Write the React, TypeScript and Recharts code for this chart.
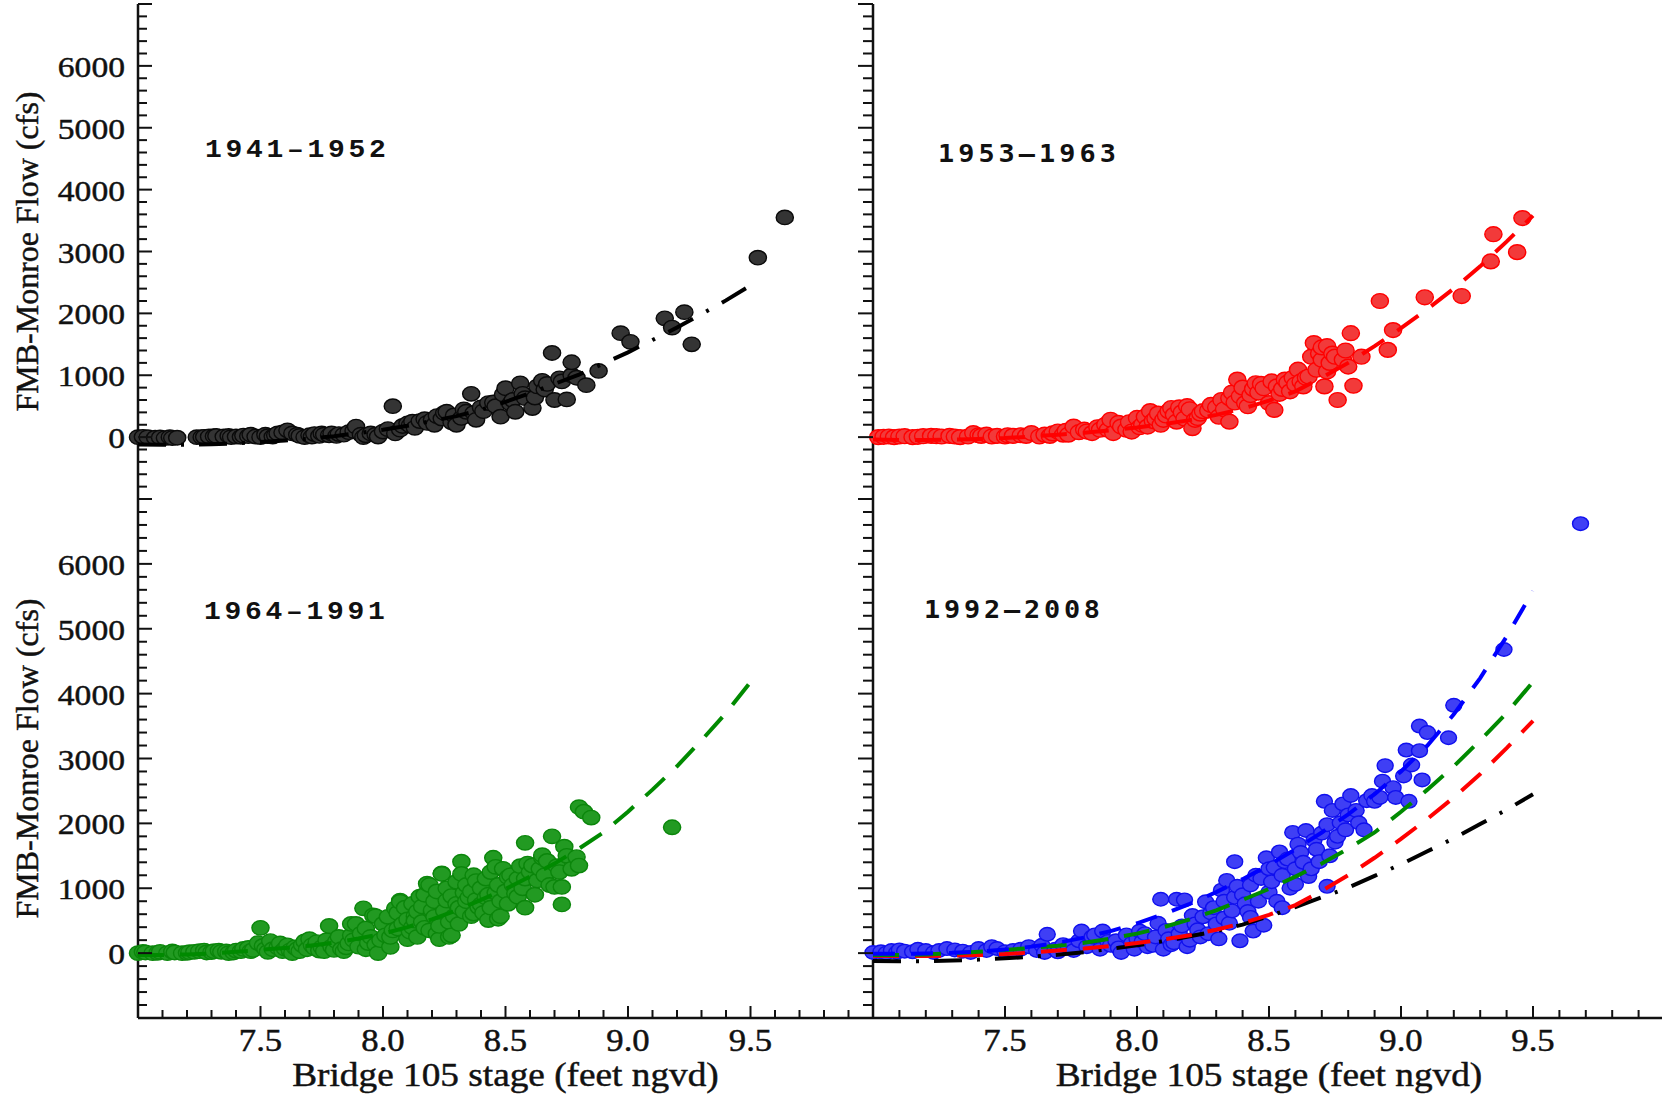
import React from "react";
import { ScatterChart, Scatter, XAxis, YAxis } from "recharts";

const INK = "#111";
const SERIF = "'Liberation Serif', 'Times New Roman', serif";

// tick positions
const xTicks = [7.0, 7.1, 7.2, 7.3, 7.4, 7.5, 7.6, 7.7, 7.8, 7.9, 8.0, 8.1, 8.2, 8.3, 8.4, 8.5, 8.6, 8.7, 8.8, 8.9, 9.0, 9.1, 9.2, 9.3, 9.4, 9.5, 9.6, 9.7, 9.8, 9.9, 10.0];
const yTicks = [-1000, -800, -600, -400, -200, 0, 200, 400, 600, 800, 1000, 1200, 1400, 1600, 1800, 2000, 2200, 2400, 2600, 2800, 3000, 3200, 3400, 3600, 3800, 4000, 4200, 4400, 4600, 4800, 5000, 5200, 5400, 5600, 5800, 6000, 6200, 6400, 6600, 6800, 7000];

// fitted rating curves at 0.1 ft steps
const fitStages = [7.0, 7.1, 7.2, 7.3, 7.4, 7.5, 7.6, 7.7, 7.8, 7.9, 8.0, 8.1, 8.2, 8.3, 8.4, 8.5, 8.6, 8.7, 8.8, 8.9, 9.0, 9.1, 9.2, 9.3, 9.4, 9.5];
const fit1941 = [-120, -125, -125, -115, -100, -80, -55, -25, 15, 65, 120, 185, 260, 340, 440, 570, 710, 860, 1010, 1190, 1370, 1570, 1770, 1990, 2210, 2450];
const fit1953 = [-40, -45, -45, -40, -30, -15, 10, 40, 70, 110, 155, 210, 275, 360, 460, 590, 740, 960, 1200, 1470, 1760, 2070, 2400, 2760, 3160, 3580];
const fit1964 = [-30, -30, -20, -5, 20, 50, 80, 115, 160, 225, 300, 400, 520, 660, 820, 990, 1180, 1380, 1610, 1860, 2180, 2520, 2880, 3280, 3700, 4180];
const fit1992 = [-10, -10, -5, 5, 25, 55, 100, 160, 240, 340, 460, 600, 760, 940, 1140, 1360, 1600, 1860, 2140, 2450, 2800, 3200, 3680, 4240, 4880, 5580];

// observed stage / flow pairs
const obs1941: [number, number][] = [
  [7.00, 0], [7.02, 5], [7.04, 0], [7.07, -10], [7.09, -5], [7.11, -15], [7.13, 0], [7.14, -15], [7.16, -10], [7.24, 0],
  [7.26, 0], [7.27, 5], [7.29, 10], [7.31, 15], [7.32, 20], [7.35, 10], [7.37, 20], [7.38, 0], [7.40, 10], [7.42, 5],
  [7.43, 25], [7.45, 15], [7.46, 40], [7.48, 10], [7.50, 0], [7.52, 40], [7.53, 15], [7.55, 10], [7.56, 30], [7.57, 60],
  [7.59, 75], [7.61, 110], [7.63, 60], [7.65, 40], [7.66, 20], [7.68, 0], [7.70, 30], [7.71, 10], [7.72, 50], [7.74, 20],
  [7.75, 60], [7.76, 40], [7.78, 30], [7.79, 60], [7.81, 20], [7.82, 50], [7.84, 40], [7.86, 80], [7.88, 100], [7.89, 170],
  [7.91, 40], [7.92, 0], [7.93, 30], [7.95, 60], [7.97, 40], [7.98, 10], [8.00, 90], [8.02, 130], [8.04, 500], [8.05, 60],
  [8.07, 120], [8.08, 180], [8.10, 220], [8.11, 190], [8.12, 250], [8.13, 150], [8.15, 260], [8.17, 290], [8.18, 230], [8.20, 280],
  [8.21, 200], [8.22, 340], [8.24, 300], [8.25, 390], [8.26, 410], [8.28, 240], [8.29, 350], [8.30, 200], [8.32, 310], [8.33, 450],
  [8.34, 410], [8.36, 700], [8.37, 390], [8.38, 280], [8.40, 480], [8.41, 420], [8.43, 550], [8.45, 560], [8.46, 500], [8.48, 330],
  [8.49, 690], [8.50, 790], [8.52, 540], [8.53, 600], [8.54, 410], [8.56, 870], [8.57, 700], [8.58, 630], [8.61, 470], [8.62, 640],
  [8.63, 820], [8.65, 910], [8.66, 770], [8.67, 860], [8.69, 1360], [8.70, 600], [8.72, 950], [8.73, 900], [8.75, 610], [8.77, 1000],
  [8.77, 1210], [8.79, 960], [8.83, 840], [8.88, 1070], [8.97, 1680], [9.01, 1540], [9.15, 1920], [9.18, 1770], [9.23, 2020], [9.26, 1500],
  [9.53, 2900], [9.64, 3550],
];

const obs1953: [number, number][] = [
  [7.02, 0], [7.04, 5], [7.06, 10], [7.08, 0], [7.10, 10], [7.12, 15], [7.15, 0], [7.17, 5], [7.19, 15], [7.22, 20],
  [7.24, 15], [7.26, 10], [7.29, 20], [7.31, 10], [7.33, 0], [7.36, 10], [7.38, 65], [7.40, 30], [7.41, 20], [7.43, 40],
  [7.45, 10], [7.47, 20], [7.50, 10], [7.51, 30], [7.53, 20], [7.56, 30], [7.58, 20], [7.60, 65], [7.63, 10], [7.65, 40],
  [7.67, 20], [7.68, 60], [7.70, 90], [7.72, 40], [7.73, 100], [7.74, 40], [7.76, 170], [7.78, 80], [7.80, 120], [7.81, 90],
  [7.83, 65], [7.85, 160], [7.86, 120], [7.88, 200], [7.89, 120], [7.90, 280], [7.91, 65], [7.93, 230], [7.94, 170], [7.96, 120],
  [7.97, 240], [7.98, 90], [8.00, 310], [8.01, 160], [8.02, 200], [8.03, 330], [8.04, 170], [8.05, 420], [8.06, 260], [8.07, 300],
  [8.08, 380], [8.09, 200], [8.10, 280], [8.11, 350], [8.12, 420], [8.13, 470], [8.14, 360], [8.15, 250], [8.16, 480], [8.17, 400],
  [8.18, 300], [8.19, 500], [8.20, 450], [8.21, 145], [8.22, 280], [8.23, 310], [8.24, 380], [8.25, 420], [8.27, 430], [8.28, 520],
  [8.30, 480], [8.31, 330], [8.32, 600], [8.33, 450], [8.35, 250], [8.35, 630], [8.36, 720], [8.37, 560], [8.38, 930], [8.39, 660],
  [8.40, 800], [8.41, 550], [8.42, 500], [8.43, 680], [8.44, 780], [8.45, 870], [8.46, 720], [8.47, 860], [8.48, 790], [8.50, 550],
  [8.51, 900], [8.52, 440], [8.53, 820], [8.54, 700], [8.55, 780], [8.56, 930], [8.57, 880], [8.58, 740], [8.59, 960], [8.60, 850],
  [8.61, 1090], [8.62, 900], [8.63, 820], [8.64, 960], [8.65, 980], [8.66, 1300], [8.67, 1520], [8.68, 1090], [8.69, 1350], [8.70, 1250],
  [8.70, 1450], [8.71, 820], [8.72, 1470], [8.72, 1060], [8.73, 1200], [8.74, 1350], [8.75, 1300], [8.76, 600], [8.78, 1250], [8.79, 1400],
  [8.80, 1140], [8.81, 1680], [8.82, 830], [8.85, 1300], [8.92, 2200], [8.95, 1410], [8.97, 1730], [9.09, 2260], [9.23, 2280], [9.34, 2840],
  [9.35, 3280], [9.44, 2990], [9.46, 3540],
];

const obs1964: [number, number][] = [
  [7.00, 0], [7.02, 20], [7.03, 10], [7.06, 0], [7.08, 5], [7.09, 20], [7.12, 0], [7.14, 25], [7.15, 10], [7.18, 0],
  [7.20, 5], [7.21, 15], [7.23, 20], [7.25, 30], [7.27, 40], [7.28, 10], [7.30, 15], [7.31, 30], [7.33, 40], [7.34, 20],
  [7.36, 25], [7.37, 0], [7.39, 10], [7.40, 40], [7.42, 30], [7.43, 65], [7.45, 80], [7.46, 30], [7.47, 50], [7.49, 155],
  [7.50, 390], [7.51, 110], [7.52, 60], [7.53, 20], [7.54, 185], [7.55, 60], [7.57, 90], [7.58, 150], [7.59, 30], [7.60, 70],
  [7.61, 120], [7.62, 40], [7.63, 0], [7.64, 90], [7.65, 60], [7.66, 30], [7.67, 125], [7.68, 180], [7.69, 60], [7.70, 215],
  [7.71, 120], [7.72, 80], [7.73, 170], [7.74, 40], [7.75, 90], [7.76, 30], [7.77, 200], [7.78, 420], [7.79, 100], [7.80, 50],
  [7.81, 185], [7.82, 250], [7.83, 60], [7.84, 30], [7.85, 90], [7.86, 150], [7.87, 275], [7.87, 450], [7.88, 200], [7.89, 450],
  [7.90, 100], [7.91, 300], [7.92, 690], [7.93, 60], [7.93, 380], [7.94, 155], [7.95, 250], [7.96, 580], [7.97, 570], [7.97, 130],
  [7.98, 0], [7.99, 200], [8.00, 450], [8.01, 275], [8.02, 560], [8.03, 95], [8.03, 250], [8.04, 350], [8.05, 690], [8.06, 380],
  [8.06, 620], [8.07, 810], [8.07, 790], [8.08, 450], [8.09, 700], [8.10, 215], [8.10, 520], [8.11, 330], [8.12, 400], [8.12, 760],
  [8.13, 570], [8.13, 500], [8.14, 640], [8.14, 250], [8.15, 870], [8.16, 720], [8.16, 480], [8.17, 390], [8.17, 900], [8.18, 1070],
  [8.19, 1050], [8.19, 350], [8.20, 630], [8.20, 660], [8.21, 800], [8.21, 560], [8.22, 300], [8.22, 950], [8.23, 215], [8.23, 420],
  [8.24, 1230], [8.24, 1220], [8.25, 650], [8.26, 810], [8.26, 1000], [8.27, 250], [8.27, 480], [8.28, 275], [8.28, 880], [8.29, 570],
  [8.30, 760], [8.30, 1100], [8.31, 700], [8.31, 450], [8.32, 1410], [8.32, 1220], [8.33, 930], [8.33, 640], [8.34, 1050], [8.34, 800],
  [8.35, 860], [8.36, 570], [8.36, 950], [8.37, 610], [8.37, 1200], [8.38, 1110], [8.38, 820], [8.39, 710], [8.40, 750], [8.40, 1000],
  [8.41, 620], [8.42, 860], [8.42, 1150], [8.43, 510], [8.43, 900], [8.44, 1250], [8.44, 700], [8.45, 1470], [8.46, 930], [8.46, 1330],
  [8.47, 530], [8.47, 1050], [8.48, 570], [8.48, 800], [8.49, 1300], [8.50, 950], [8.51, 1170], [8.51, 760], [8.52, 1200], [8.53, 1050],
  [8.54, 920], [8.55, 870], [8.55, 1150], [8.56, 1340], [8.57, 1000], [8.58, 1700], [8.58, 700], [8.58, 1150], [8.59, 1380], [8.60, 1250],
  [8.61, 1350], [8.62, 900], [8.63, 1120], [8.64, 1300], [8.65, 1470], [8.65, 1510], [8.66, 1200], [8.67, 1420], [8.68, 1050], [8.69, 1800],
  [8.70, 1020], [8.71, 1340], [8.72, 1250], [8.73, 750], [8.73, 1020], [8.74, 1640], [8.75, 1500], [8.77, 1300], [8.79, 1480], [8.80, 2250],
  [8.80, 1350], [8.82, 2180], [8.85, 2090], [9.18, 1940],
];

const obs1992: [number, number][] = [
  [7.00, 10], [7.03, 20], [7.05, 0], [7.07, 40], [7.09, 10], [7.10, 50], [7.12, 30], [7.15, 20], [7.17, 60], [7.20, 40],
  [7.23, 10], [7.25, 40], [7.28, 70], [7.31, 50], [7.34, 30], [7.37, 10], [7.40, 70], [7.43, 40], [7.45, 100], [7.47, 70],
  [7.50, 20], [7.53, 40], [7.56, 60], [7.59, 100], [7.62, 40], [7.64, 120], [7.65, 10], [7.66, 290], [7.69, 60], [7.70, 20],
  [7.72, 130], [7.74, 90], [7.76, 40], [7.78, 190], [7.79, 340], [7.81, 100], [7.83, 250], [7.84, 280], [7.86, 60], [7.87, 340],
  [7.89, 180], [7.90, 120], [7.92, 190], [7.93, 80], [7.94, 10], [7.96, 280], [7.98, 150], [7.99, 60], [8.00, 220], [8.01, 340],
  [8.02, 180], [8.03, 300], [8.04, 100], [8.06, 120], [8.07, 250], [8.08, 460], [8.09, 830], [8.10, 60], [8.11, 350], [8.12, 220],
  [8.13, 130], [8.14, 160], [8.15, 830], [8.16, 300], [8.17, 420], [8.18, 820], [8.19, 100], [8.20, 200], [8.21, 580], [8.22, 450],
  [8.23, 360], [8.24, 250], [8.25, 560], [8.26, 790], [8.27, 300], [8.28, 620], [8.29, 700], [8.30, 450], [8.31, 220], [8.32, 970],
  [8.33, 540], [8.33, 800], [8.34, 1120], [8.35, 460], [8.36, 650], [8.37, 1410], [8.37, 860], [8.38, 1030], [8.39, 190], [8.40, 900],
  [8.41, 760], [8.42, 640], [8.43, 1050], [8.43, 550], [8.44, 340], [8.45, 1200], [8.46, 800], [8.47, 1150], [8.48, 430], [8.49, 1470],
  [8.50, 940], [8.50, 1300], [8.51, 1100], [8.52, 1320], [8.53, 800], [8.54, 1560], [8.55, 700], [8.55, 1200], [8.56, 1410], [8.57, 1450],
  [8.58, 1000], [8.59, 1860], [8.60, 1060], [8.60, 1300], [8.61, 1680], [8.62, 1550], [8.63, 1400], [8.64, 1890], [8.65, 1180], [8.66, 1300],
  [8.67, 1740], [8.68, 1600], [8.69, 1410], [8.70, 1850], [8.71, 2340], [8.72, 1980], [8.72, 1030], [8.73, 1500], [8.74, 2200], [8.75, 1710],
  [8.76, 1800], [8.77, 2010], [8.78, 2300], [8.79, 1900], [8.80, 2130], [8.81, 2430], [8.83, 2200], [8.84, 2010], [8.86, 1900], [8.87, 2350],
  [8.89, 2430], [8.90, 2340], [8.92, 2400], [8.93, 2650], [8.94, 2890], [8.97, 2550], [8.98, 2400], [9.01, 2730], [9.02, 3130], [9.03, 2340],
  [9.04, 2900], [9.07, 3500], [9.07, 3120], [9.08, 2670], [9.10, 3400], [9.18, 3320], [9.20, 3820], [9.39, 4680], [9.68, 6620],
];

type Pt = { x: number; y: number };
const toPts = (pairs: [number, number][]): Pt[] => pairs.map(([x, y]) => ({ x, y }));
const toCurve = (vals: number[]): Pt[] => fitStages.map((x, i) => ({ x, y: vals[i] }));

const isMajorX = (v: number) => Math.abs(v * 2 - Math.round(v * 2)) < 1e-6;
const isMajorY = (v: number) => Math.abs(v % 1000) < 1e-6;

const serifText = { fontFamily: SERIF, fill: INK, stroke: INK, strokeWidth: 0.45 };

// y ticks on the outer left frame: point inward, labelled
const YTickLabelled = (props: any) => {
  const { x, y, payload } = props;
  const v = payload.value;
  const major = isMajorY(v);
  return (
    <g>
      <line x1={x} y1={y} x2={x + (major ? 14 : 9)} y2={y} stroke={INK} strokeWidth={2} />
      {major && v >= 0 && v <= 6000 && (
        <text transform={`translate(${x - 13},${y + 11}) scale(1.12,1)`} textAnchor="end" fontSize={30} {...serifText}>
          {v}
        </text>
      )}
    </g>
  );
};

// y ticks on the middle frame: point left, no labels
const YTickBare = (props: any) => {
  const { x, y, payload } = props;
  const major = isMajorY(payload.value);
  return <line x1={x} y1={y} x2={x - (major ? 15 : 10)} y2={y} stroke={INK} strokeWidth={2} />;
};

const XTickBottom = (props: any) => {
  const { x, y, payload } = props;
  const v = payload.value;
  const major = isMajorX(v);
  return (
    <g>
      <line x1={x} y1={y} x2={x} y2={y - (major ? 12 : 8)} stroke={INK} strokeWidth={2} />
      {major && v > 7.01 && v < 9.99 && (
        <text transform={`translate(${x},${y + 33}) scale(1.12,1)`} textAnchor="middle" fontSize={31} {...serifText}>
          {v.toFixed(1)}
        </text>
      )}
    </g>
  );
};

const XTickTop = (props: any) => {
  const { x, y, payload } = props;
  const major = isMajorX(payload.value);
  return <line x1={x} y1={y} x2={x} y2={y + (major ? 12.5 : 8)} stroke={INK} strokeWidth={2} />;
};

const xTitle = (p: any) => {
  const vb = p.viewBox || { x: 0, y: 0, width: 0 };
  return (
    <text transform={`translate(${vb.x + vb.width / 2},${vb.y + 68}) scale(1.13,1)`} textAnchor="middle" fontSize={33} {...serifText}>
      Bridge 105 stage (feet ngvd)
    </text>
  );
};

const yTitle = (p: any) => {
  const vb = p.viewBox || { x: 0, y: 0, height: 0 };
  const cy = vb.y + vb.height / 2;
  return (
    <text transform={`translate(38,${cy}) rotate(-90)`} textAnchor="middle" fontSize={32} {...serifText}>
      FMB-Monroe Flow (cfs)
    </text>
  );
};

type Curve = { data: Pt[]; color: string; dash: string };

type PanelProps = {
  col: "left" | "right";
  row: "top" | "bottom";
  dots: Pt[];
  fill: string;
  stroke: string;
  rx: number;
  ry: number;
  curves: Curve[];
};

const Panel = ({ col, row, dots, fill, stroke, rx, ry, curves }: PanelProps) => {
  const left = col === "left" ? 0 : 853;
  const width = col === "left" ? 873 : 812;
  const yAxisW = col === "left" ? 138 : 20;
  const top = row === "top" ? 0 : 494;
  const height = row === "top" ? 499 : 602;
  const marginTop = row === "top" ? 4 : 5;
  const frame = { stroke: INK, strokeWidth: 2.5 };

  const dotShape = (p: any) => <ellipse cx={p.cx} cy={p.cy} rx={rx} ry={ry} fill={fill} stroke={stroke} strokeWidth={1.4} />;

  return (
    <div style={{ position: "absolute", left, top }}>
      <ScatterChart width={width} height={height} margin={{ top: marginTop, right: 0, bottom: 0, left: 0 }}>
        {row === "top" ? (
          <XAxis type="number" dataKey="x" domain={[7, 10]} orientation="top" height={0} tick={false} tickLine={false} axisLine={frame} />
        ) : (
          <XAxis
            type="number"
            dataKey="x"
            domain={[7, 10]}
            ticks={xTicks}
            interval={0}
            orientation="bottom"
            height={78}
            tickSize={0}
            tickMargin={0}
            tickLine={false}
            tick={XTickBottom}
            axisLine={frame}
            label={xTitle}
          />
        )}
        {row === "bottom" && (
          <XAxis
            xAxisId="top"
            type="number"
            dataKey="x"
            domain={[7, 10]}
            ticks={xTicks}
            interval={0}
            orientation="top"
            height={0}
            tickSize={0}
            tickMargin={0}
            tickLine={false}
            tick={XTickTop}
            axisLine={frame}
          />
        )}
        <YAxis
          type="number"
          dataKey="y"
          domain={[-1000, 7000]}
          ticks={yTicks}
          interval={0}
          width={yAxisW}
          tickSize={0}
          tickMargin={0}
          tickLine={false}
          tick={col === "left" ? YTickLabelled : YTickBare}
          axisLine={frame}
          label={col === "left" ? yTitle : undefined}
        />
        {row === "bottom" && <Scatter xAxisId="top" data={[]} isAnimationActive={false} />}
        <Scatter data={dots} shape={dotShape} isAnimationActive={false} />
        {curves.map((c, i) => (
          <Scatter
            key={i}
            data={c.data}
            line={{ stroke: c.color, strokeWidth: 4, strokeDasharray: c.dash }}
            shape={() => <g />}
            isAnimationActive={false}
          />
        ))}
      </ScatterChart>
    </div>
  );
};

const BLACK_FIT: Curve = { data: toCurve(fit1941), color: "#000000", dash: "28 15 3 15" };
const RED_FIT: Curve = { data: toCurve(fit1953), color: "#ff0000", dash: "26 16" };
const GREEN_FIT: Curve = { data: toCurve(fit1964), color: "#008a00", dash: "26 16" };
const BLUE_FIT: Curve = { data: toCurve(fit1992), color: "#0000ff", dash: "22 16" };

export default function App() {
  return (
    <div style={{ position: "fixed", left: 0, top: 0, width: 1662, height: 1096, overflow: "hidden", background: "#fff" }}>
      <Panel col="left" row="top" dots={toPts(obs1941)} fill="#343434" stroke="#0a0a0a" rx={8.6} ry={7.2} curves={[BLACK_FIT]} />
      <Panel col="right" row="top" dots={toPts(obs1953)} fill="#f23a3a" stroke="#ff0000" rx={8.6} ry={7.4} curves={[RED_FIT]} />
      <Panel col="left" row="bottom" dots={toPts(obs1964)} fill="#229a22" stroke="#0b860b" rx={8.6} ry={7.2} curves={[GREEN_FIT]} />
      <Panel
        col="right"
        row="bottom"
        dots={toPts(obs1992)}
        fill="#3f3ff5"
        stroke="#1010ee"
        rx={8}
        ry={6.8}
        curves={[BLACK_FIT, RED_FIT, GREEN_FIT, BLUE_FIT]}
      />
      <svg width={1662} height={1096} style={{ position: "absolute", left: 0, top: 0, pointerEvents: "none" }}>
        <g fontFamily="'Liberation Mono', monospace" fontWeight="bold" fontSize={25} fill={INK}>
          <text transform="translate(205,157) scale(1.12,1)" letterSpacing={3.3}>1941–1952</text>
          <text transform="translate(204,619) scale(1.12,1)" letterSpacing={3.3}>1964–1991</text>
        </g>
        <g fontFamily="'DejaVu Sans Mono', monospace" fontWeight="bold" fontSize={24} fill={INK}>
          <text transform="translate(938,162) scale(1.12,1)" letterSpacing={3.6}>1953–1963</text>
          <text transform="translate(924,618) scale(1.12,1)" letterSpacing={3.4}>1992–2008</text>
        </g>
      </svg>
    </div>
  );
}
